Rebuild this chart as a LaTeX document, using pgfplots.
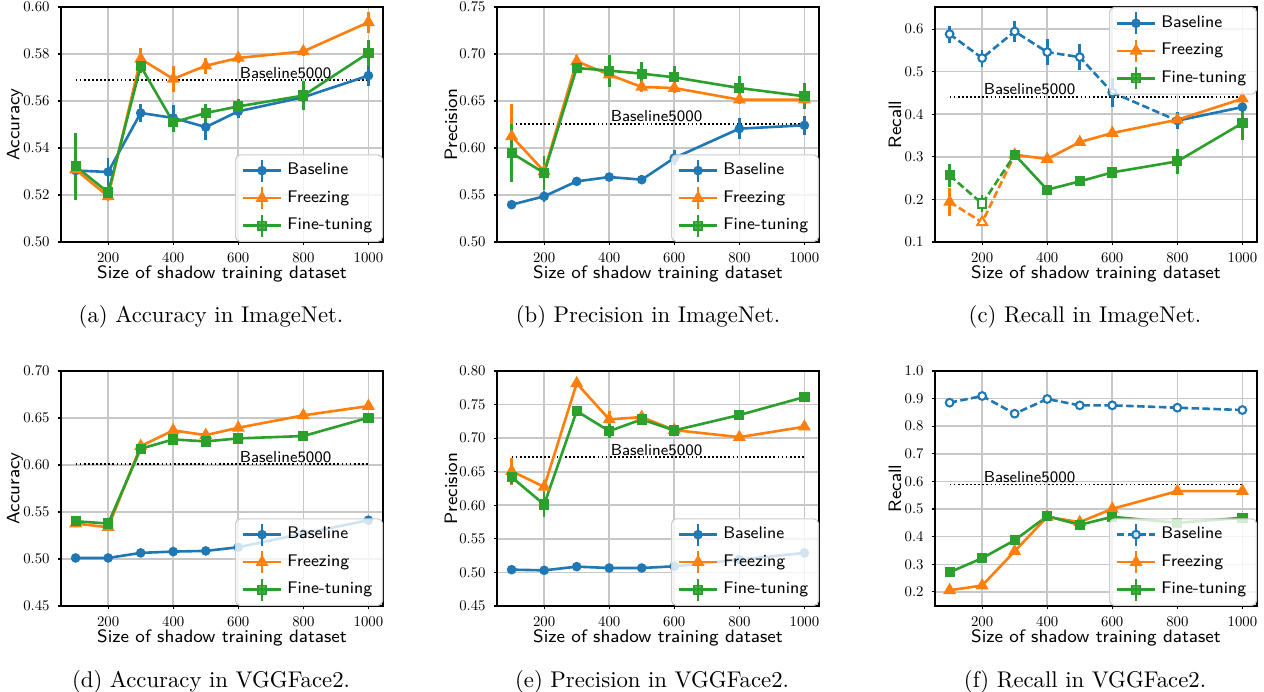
\documentclass[border=0pt]{standalone}
\usepackage{pgfplots}
\pgfplotsset{compat=1.18}
\definecolor{cB}{HTML}{1F77B4}
\definecolor{cF}{HTML}{FF7F0E}
\definecolor{cG}{HTML}{2CA02C}
\def\pxu{0.44pt}
\pgfplotsset{
  legend image code/.code={
    \draw[#1, solid, line width=1.15pt] (0.3cm,-0.17cm) -- (0.3cm,0.17cm);
    \draw[mark repeat=2, mark phase=2, #1] plot coordinates {(0cm,0cm) (0.3cm,0cm) (0.6cm,0cm)};
  },
  lB/.style={cB, line width=1.15pt, mark=*, mark size=1.7pt, mark options={solid, fill=cB, line width=0.8pt}},
  lF/.style={cF, line width=1.15pt, mark=triangle*, mark size=2.5pt, mark options={solid, fill=cF, line width=0.8pt}},
  lG/.style={cG, line width=1.15pt, mark=square*, mark size=1.85pt, mark options={solid, fill=cG, line width=0.8pt}},
  eb/.style={forget plot, error bars/y dir=both, error bars/y explicit, error bars/error mark=none,
    error bars/error bar style={line width=1.15pt, solid}},
  sB/.style={lB, eb}, sF/.style={lF, eb}, sG/.style={lG, eb},
  open/.style={mark options={solid, fill=white, line width=0.9pt}},
  dsh/.style={dash pattern=on 3.3pt off 1.5pt},
  seg/.style={forget plot, mark=none},
  b5/.style={forget plot, black, line width=0.75pt, dash pattern=on 0.75pt off 1.05pt, mark=none},
  sub/.style={
    scale only axis, width=141.7pt, height=103.4pt, anchor=south west,
    xmin=55, xmax=1045, xtick={200,400,600,800,1000},
    grid=major, grid style={color=black!22, line width=0.7pt},
    axis line style={line width=0.6pt},
    tick align=outside, tick pos=left, major tick length=1.5pt,
    major tick style={black, line width=0.5pt},
    xlabel={Size of shadow training dataset},
    label style={font=\sffamily\fontsize{7.9}{9.5}\selectfont},
    xlabel style={at={(axis description cs:0.5,-0.134)}, anchor=center},
    ylabel style={at={(axis description cs:-0.143,0.5)}, anchor=center},
    tick label style={font=\fontsize{10}{12}\selectfont},
    xticklabel={\scalebox{0.65}{$\pgfmathprintnumber{\tick}$}},
    yticklabel={\scalebox{0.65}{$\pgfmathprintnumber{\tick}$}},
    xticklabel style={/pgf/number format/1000 sep={}},
    yticklabel style={/pgf/number format/.cd, fixed, fixed zerofill, precision=2},
    legend cell align=left,
    legend style={at={(1,0)}, anchor=south east, font=\sffamily\fontsize{7.4}{9}\selectfont,
      draw=black!20, line width=0.5pt, rounded corners=2pt, fill=white, fill opacity=0.8,
      text opacity=1, draw opacity=1, inner xsep=2.5pt, inner ysep=1.5pt, row sep=1.3pt},
  },
}
\newcommand{\bfive}[2]{\node[anchor=south west, inner sep=0.5pt, font=\sffamily\fontsize{7}{8}\selectfont] at (axis cs:#1,#2) {Baseline5000};}

\begin{document}
\begin{tikzpicture}
\useasboundingbox (0,0) rectangle (1264*\pxu,-692*\pxu);

% (a) Accuracy in ImageNet
\begin{axis}[sub, at={(61*\pxu,-242*\pxu)}, ymin=0.50, ymax=0.60,
  ytick={0.50,0.52,0.54,0.56,0.58,0.60}, ylabel={Accuracy}]
\addlegendimage{lB}\addlegendimage{lF}\addlegendimage{lG}
\addplot[b5] coordinates {(100,0.5688) (1000,0.5688)};
\addplot[sB] coordinates {(100,0.5304) +- (0,0.002) (200,0.5298) +- (0,0.006) (300,0.5549) +- (0,0.004) (400,0.5528) +- (0,0.0055) (500,0.5489) +- (0,0.0055) (600,0.5556) +- (0,0.003) (800,0.5616) +- (0,0.003) (1000,0.5708) +- (0,0.0045)};
\addplot[sF] coordinates {(100,0.5308) +- (0,0.002) (200,0.5194) +- (0,0.002) (300,0.5779) +- (0,0.0045) (400,0.5694) +- (0,0.0057) (500,0.5750) +- (0,0.0035) (600,0.5783) +- (0,0.002) (800,0.5811) +- (0,0.002) (1000,0.5935) +- (0,0.0045)};
\addplot[sG] coordinates {(100,0.5322) +- (0,0.0143) (200,0.5211) +- (0,0.003) (300,0.5748) +- (0,0.003) (400,0.5509) +- (0,0.004) (500,0.5549) +- (0,0.004) (600,0.5577) +- (0,0.003) (800,0.5623) +- (0,0.006) (1000,0.5804) +- (0,0.0055)};
\bfive{600}{0.5688}
\legend{Baseline,Freezing,Fine-tuning}
\end{axis}

% (b) Precision in ImageNet
\begin{axis}[sub, at={(497*\pxu,-242*\pxu)}, ymin=0.50, ymax=0.75,
  ytick={0.50,0.55,0.60,0.65,0.70,0.75}, ylabel={Precision}]
\addlegendimage{lB}\addlegendimage{lF}\addlegendimage{lG}
\addplot[b5] coordinates {(100,0.6259) (1000,0.6259)};
\addplot[sB] coordinates {(100,0.5397) +- (0,0.004) (200,0.5486) +- (0,0.006) (300,0.5645) +- (0,0.003) (400,0.5691) +- (0,0.003) (500,0.5663) +- (0,0.005) (600,0.5894) +- (0,0.008) (800,0.6206) +- (0,0.011) (1000,0.6241) +- (0,0.010)};
\addplot[sF] coordinates {(100,0.6124) +- (0,0.034) (200,0.5752) +- (0,0.005) (300,0.6922) +- (0,0.007) (400,0.6780) +- (0,0.006) (500,0.6649) +- (0,0.005) (600,0.6638) +- (0,0.005) (800,0.6514) +- (0,0.005) (1000,0.6514) +- (0,0.005)};
\addplot[sG] coordinates {(100,0.5947) +- (0,0.031) (200,0.5734) +- (0,0.018) (300,0.6851) +- (0,0.005) (400,0.6823) +- (0,0.017) (500,0.6791) +- (0,0.012) (600,0.6752) +- (0,0.012) (800,0.6638) +- (0,0.013) (1000,0.6550) +- (0,0.014)};
\bfive{400}{0.6259}
\legend{Baseline,Freezing,Fine-tuning}
\end{axis}

% (c) Recall in ImageNet
\begin{axis}[sub, at={(935*\pxu,-242*\pxu)}, ymin=0.1, ymax=0.652,
  ytick={0.1,0.2,0.3,0.4,0.5,0.6}, yticklabel style={/pgf/number format/precision=1},
  ylabel={Recall}, ylabel style={at={(axis description cs:-0.124,0.5)}},
  legend style={at={(1,1)}, anchor=north east}]
\addlegendimage{lB}\addlegendimage{lF}\addlegendimage{lG}
\addplot[b5] coordinates {(100,0.4412) (1000,0.4412)};
\addplot[lB, dsh, seg] coordinates {(600,0.4513) (800,0.3850)};
\addplot[sB, dsh, open] coordinates {(100,0.5883) +- (0,0.02) (200,0.5319) +- (0,0.02) (300,0.5945) +- (0,0.025) (400,0.5460) +- (0,0.03) (500,0.5343) +- (0,0.03) (600,0.4513) +- (0,0.035)};
\addplot[sB] coordinates {(800,0.3850) +- (0,0.02) (1000,0.4169) +- (0,0.02)};
\addplot[lF, dsh, seg] coordinates {(100,0.1940) (200,0.1462) (300,0.3050)};
\addplot[sF, only marks] coordinates {(100,0.1940) +- (0,0.033)};
\addplot[sF, only marks, open] coordinates {(200,0.1462) +- (0,0.008)};
\addplot[sF] coordinates {(300,0.3050) +- (0,0.01) (400,0.2948) +- (0,0.01) (500,0.3347) +- (0,0.008) (600,0.3559) +- (0,0.008) (800,0.3872) +- (0,0.008) (1000,0.4365) +- (0,0.01)};
\addplot[lG, dsh, seg] coordinates {(100,0.2565) (200,0.1900) (300,0.3050)};
\addplot[sG, only marks] coordinates {(100,0.2565) +- (0,0.027)};
\addplot[sG, only marks, open] coordinates {(200,0.1900) +- (0,0.02)};
\addplot[sG] coordinates {(300,0.3050) +- (0,0.01) (400,0.2228) +- (0,0.012) (500,0.2424) +- (0,0.01) (600,0.2635) +- (0,0.012) (800,0.2894) +- (0,0.03) (1000,0.3793) +- (0,0.04)};
\bfive{200}{0.4412}
\legend{Baseline,Freezing,Fine-tuning}
\end{axis}

% (d) Accuracy in VGGFace2
\begin{axis}[sub, at={(61*\pxu,-606*\pxu)}, ymin=0.45, ymax=0.70,
  ytick={0.45,0.50,0.55,0.60,0.65,0.70}, ylabel={Accuracy}]
\addlegendimage{lB}\addlegendimage{lF}\addlegendimage{lG}
\addplot[b5] coordinates {(100,0.6009) (1000,0.6009)};
\addplot[sB] coordinates {(100,0.5011) +- (0,0.002) (200,0.5011) +- (0,0.002) (300,0.5065) +- (0,0.002) (400,0.5079) +- (0,0.002) (500,0.5086) +- (0,0.002) (600,0.5125) +- (0,0.002) (800,0.5270) +- (0,0.002) (1000,0.5413) +- (0,0.002)};
\addplot[sF] coordinates {(100,0.5377) +- (0,0.002) (200,0.5338) +- (0,0.002) (300,0.6201) +- (0,0.002) (400,0.6368) +- (0,0.002) (500,0.6318) +- (0,0.002) (600,0.6396) +- (0,0.002) (800,0.6528) +- (0,0.002) (1000,0.6627) +- (0,0.002)};
\addplot[sG] coordinates {(100,0.5402) +- (0,0.002) (200,0.5377) +- (0,0.002) (300,0.6173) +- (0,0.002) (400,0.6272) +- (0,0.002) (500,0.6251) +- (0,0.002) (600,0.6283) +- (0,0.002) (800,0.6308) +- (0,0.002) (1000,0.6503) +- (0,0.002)};
\bfive{600}{0.6009}
\legend{Baseline,Freezing,Fine-tuning}
\end{axis}

% (e) Precision in VGGFace2
\begin{axis}[sub, at={(497*\pxu,-606*\pxu)}, ymin=0.45, ymax=0.80,
  ytick={0.45,0.50,0.55,0.60,0.65,0.70,0.75,0.80}, ylabel={Precision}]
\addlegendimage{lB}\addlegendimage{lF}\addlegendimage{lG}
\addplot[b5] coordinates {(100,0.6717) (1000,0.6717)};
\addplot[sB] coordinates {(100,0.5041) +- (0,0.003) (200,0.5031) +- (0,0.003) (300,0.5086) +- (0,0.003) (400,0.5066) +- (0,0.003) (500,0.5066) +- (0,0.003) (600,0.5091) +- (0,0.003) (800,0.5190) +- (0,0.003) (1000,0.5290) +- (0,0.003)};
\addplot[sF] coordinates {(100,0.6508) +- (0,0.02) (200,0.6274) +- (0,0.01) (300,0.7816) +- (0,0.005) (400,0.7279) +- (0,0.012) (500,0.7314) +- (0,0.005) (600,0.7120) +- (0,0.003) (800,0.7015) +- (0,0.003) (1000,0.7170) +- (0,0.003)};
\addplot[sG] coordinates {(100,0.6419) +- (0,0.01) (200,0.6011) +- (0,0.018) (300,0.7403) +- (0,0.005) (400,0.7105) +- (0,0.01) (500,0.7279) +- (0,0.004) (600,0.7115) +- (0,0.003) (800,0.7344) +- (0,0.004) (1000,0.7612) +- (0,0.004)};
\bfive{400}{0.6717}
\legend{Baseline,Freezing,Fine-tuning}
\end{axis}

% (f) Recall in VGGFace2
\begin{axis}[sub, at={(935*\pxu,-606*\pxu)}, ymin=0.149, ymax=1.0,
  ytick={0.2,0.3,0.4,0.5,0.6,0.7,0.8,0.9,1.0}, yticklabel style={/pgf/number format/precision=1},
  ylabel={Recall}, ylabel style={at={(axis description cs:-0.124,0.5)}}]
\addlegendimage{lB, dsh, open}\addlegendimage{lF}\addlegendimage{lG}
\addplot[b5] coordinates {(100,0.5891) (1000,0.5891)};
\addplot[sB, dsh, open] coordinates {(100,0.8852) +- (0,0.005) (200,0.9094) +- (0,0.005) (300,0.8453) +- (0,0.005) (400,0.8985) +- (0,0.005) (500,0.8755) +- (0,0.005) (600,0.8755) +- (0,0.005) (800,0.8671) +- (0,0.005) (1000,0.8586) +- (0,0.005)};
\addplot[sF] coordinates {(100,0.2060) +- (0,0.005) (200,0.2230) +- (0,0.005) (300,0.3474) +- (0,0.005) (400,0.4719) +- (0,0.005) (500,0.4526) +- (0,0.005) (600,0.5009) +- (0,0.005) (800,0.5650) +- (0,0.005) (1000,0.5650) +- (0,0.005)};
\addplot[sG] coordinates {(100,0.2713) +- (0,0.005) (200,0.3221) +- (0,0.005) (300,0.3873) +- (0,0.005) (400,0.4743) +- (0,0.005) (500,0.4429) +- (0,0.005) (600,0.4719) +- (0,0.005) (800,0.4502) +- (0,0.005) (1000,0.4683) +- (0,0.005)};
\bfive{200}{0.5891}
\legend{Baseline,Freezing,Fine-tuning}
\end{axis}

% captions
\begin{scope}[every node/.style={font=\fontsize{10}{12}\selectfont}]
\node at (211*\pxu,-317*\pxu) {(a) Accuracy in ImageNet.};
\node at (648*\pxu,-317*\pxu) {(b) Precision in ImageNet.};
\node at (1085*\pxu,-317*\pxu) {(c) Recall in ImageNet.};
\node at (211*\pxu,-682*\pxu) {(d) Accuracy in VGGFace2.};
\node at (652*\pxu,-682*\pxu) {(e) Precision in VGGFace2.};
\node at (1085*\pxu,-682*\pxu) {(f) Recall in VGGFace2.};
\end{scope}
\end{tikzpicture}
\end{document}
